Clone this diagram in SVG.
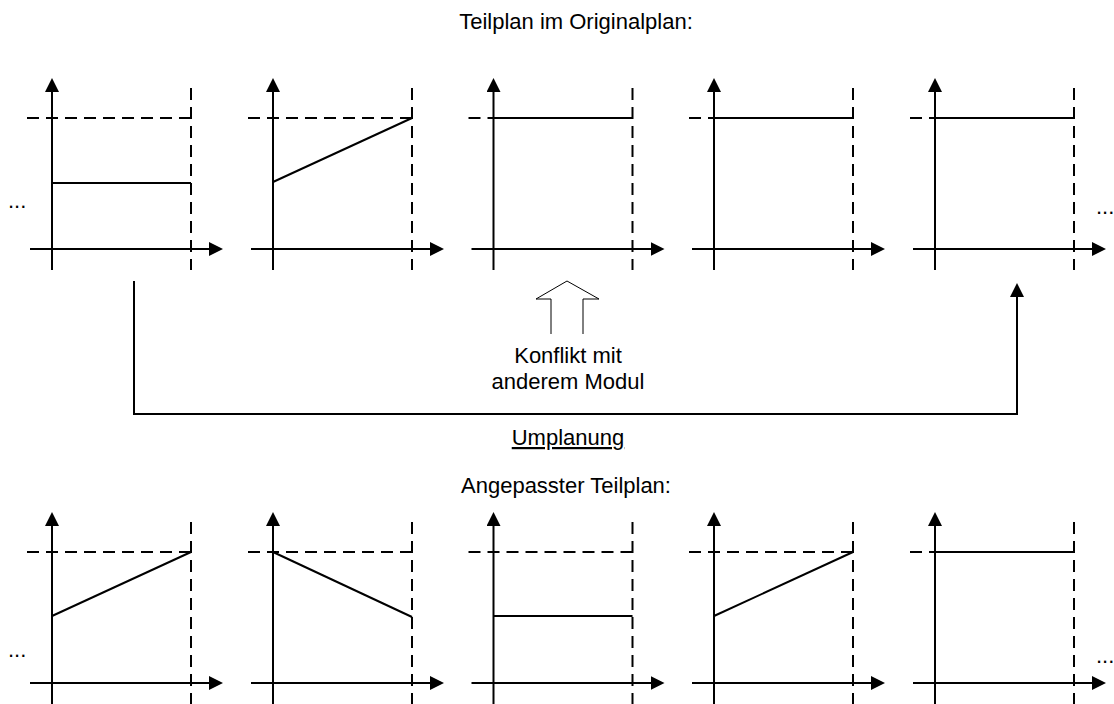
<svg xmlns="http://www.w3.org/2000/svg" width="1114" height="704" viewBox="0 0 1114 704">
  <defs>
    <style>
      .axis { stroke: #000; stroke-width: 2; fill: none; }
      .ax-arrow { marker-end: url(#head); }
      .dash { stroke: #000; stroke-width: 2; stroke-dasharray: 12 7; fill: none; }
      .data { stroke: #000; stroke-width: 2; fill: none; }
      .conn { stroke: #000; stroke-width: 2; fill: none; }
      .label { font-family: "Liberation Sans", Arial, sans-serif; font-size: 22px; fill: #000; }
      .mid { text-anchor: middle; }
    </style>
    <marker id="head" markerUnits="userSpaceOnUse" markerWidth="16" markerHeight="16" refX="2" refY="7" orient="auto">
      <path d="M0,0 L14,7 L0,14 Z" fill="#000"/>
    </marker>
    <!-- one empty coordinate frame: origin at the axis crossing -->
    <g id="frame">
      <line class="axis ax-arrow" x1="0" y1="21" x2="0" y2="-159"/>
      <line class="axis ax-arrow" x1="-22" y1="0" x2="159" y2="0"/>
      <line class="dash" x1="-25" y1="-131" x2="139" y2="-131"/>
      <line class="dash" x1="139" y1="-161" x2="139" y2="21"/>
    </g>
  </defs>

  <!-- headings -->
  <text class="label mid" x="576" y="29">Teilplan im Originalplan:</text>
  <text class="label mid" x="566" y="493">Angepasster Teilplan:</text>

  <!-- original plan, top row -->
  <g id="orig-1" transform="translate(52,249)">
    <use href="#frame"/>
    <line class="data" x1="0" y1="-66" x2="139" y2="-66"/>
  </g>
  <g id="orig-2" transform="translate(273,249)">
    <use href="#frame"/>
    <line class="data" x1="0" y1="-67" x2="139" y2="-131"/>
  </g>
  <g id="orig-3" transform="translate(493.5,249)">
    <use href="#frame"/>
    <line class="data" x1="0" y1="-131" x2="139" y2="-131"/>
  </g>
  <g id="orig-4" transform="translate(714,249)">
    <use href="#frame"/>
    <line class="data" x1="0" y1="-131" x2="139" y2="-131"/>
  </g>
  <g id="orig-5" transform="translate(935,249)">
    <use href="#frame"/>
    <line class="data" x1="0" y1="-131" x2="139" y2="-131"/>
  </g>
  <text class="label" x="8" y="208">...</text>
  <text class="label" x="1096" y="214">...</text>

  <!-- adjusted plan, bottom row -->
  <g id="adj-1" transform="translate(52,683)">
    <use href="#frame"/>
    <line class="data" x1="0" y1="-67" x2="139" y2="-131"/>
  </g>
  <g id="adj-2" transform="translate(273,683)">
    <use href="#frame"/>
    <line class="data" x1="0" y1="-131" x2="139" y2="-66"/>
  </g>
  <g id="adj-3" transform="translate(493.5,683)">
    <use href="#frame"/>
    <line class="data" x1="0" y1="-67" x2="139" y2="-67"/>
  </g>
  <g id="adj-4" transform="translate(714,683)">
    <use href="#frame"/>
    <line class="data" x1="0" y1="-67" x2="139" y2="-131"/>
  </g>
  <g id="adj-5" transform="translate(935,683)">
    <use href="#frame"/>
    <line class="data" x1="0" y1="-131" x2="139" y2="-131"/>
  </g>
  <text class="label" x="8" y="657">...</text>
  <text class="label" x="1096" y="663">...</text>

  <!-- conflict marker -->
  <g id="conflict">
    <polyline points="551,334 551,299 536,299 567,281 599,299 583,299 583,334" fill="none" stroke="#000" stroke-width="1"/>
    <text class="label mid" x="568" y="363">Konflikt mit</text>
    <text class="label mid" x="568" y="389">anderem Modul</text>
  </g>

  <!-- rescheduling connector -->
  <g id="connectors">
    <polyline class="conn" points="134,281 134,414 1017,414 1017,295" marker-end="url(#head)"/>
  </g>
  <g id="replan-label">
    <text class="label mid" x="568" y="445" text-decoration="underline">Umplanung</text>
  </g>
</svg>
